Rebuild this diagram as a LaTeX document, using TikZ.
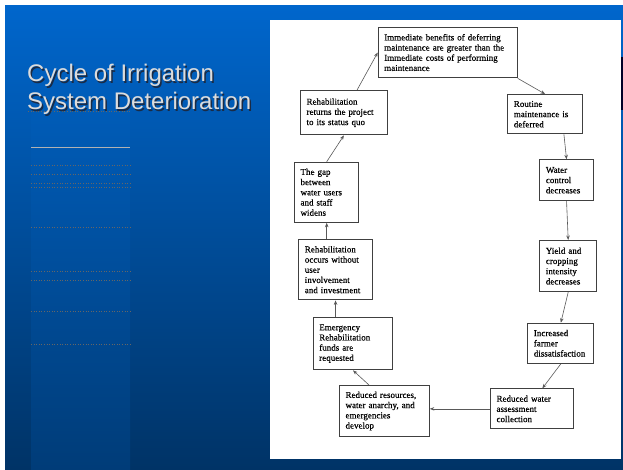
\documentclass[tikz,border=0pt]{standalone}
\usepackage{fontspec}
\setmainfont{Liberation Serif}
\newfontfamily\titlefont{Liberation Sans}
\newfontfamily\scanfont[FakeBold=0.35]{Liberation Serif}
\usepackage{xcolor}
\usetikzlibrary{arrows, arrows.meta, positioning, calc}

\definecolor{slidetop}{HTML}{0066CC}
\definecolor{slidebot}{HTML}{003366}
\definecolor{stripbot}{HTML}{003C78}
\definecolor{titlegray}{HTML}{DCDCDC}
\definecolor{titleshadow}{HTML}{1A2B45}

\begin{document}
\begin{tikzpicture}[
    x=1pt, y=-1pt,
    stage/.style={rectangle, draw=black!75, line width=1.1pt, fill=white, text=black, anchor=north west, align=left, inner xsep=6pt, inner ysep=0pt, font=\scanfont\fontsize{9}{10.2}\selectfont},
    link/.style={->, >={Stealth[length=4.5pt, width=3.5pt]}, line width=0.6pt, draw=black!65},
    title/.style={anchor=base west, inner sep=0pt, font=\titlefont\fontsize{24}{28}\selectfont},
    rule/.style={dotted, line width=0.6pt, draw=black!60}
]
\useasboundingbox (0,0) rectangle (623,470);

% Slide background
\fill[white] (0,0) rectangle (623,470);
\shade[top color=slidetop, bottom color=slidebot] (5,6) rectangle (623,470);
\shade[top color=slidetop!89!slidebot, bottom color=stripbot] (31,57) rectangle (130,470);
\fill[black!85!blue] (620.5,57) rectangle (623,110);

% Faint rules in the left column
\draw[black!30, line width=0.5pt] (31,147) -- (130,147);
\draw[rule] (28,111) -- (130,111);
\foreach \y in {165,174,183,187,227,271,280,311,344}
    \draw[rule] (31,\y) -- (130,\y);

% Title
\node[title, text=titleshadow] (shadow1) at (28.5,83.2) {Cycle of Irrigation};
\node[title, text=titleshadow] (shadow2) at (28.5,111.5) {System Deterioration};
\node[title, text=titlegray] (line1) at (27,81.7) {Cycle of Irrigation};
\node[title, text=titlegray] (line2) at (27,110) {System Deterioration};

% Scanned page
\fill[white] (270,20.5) rectangle (620.5,459);

% Stages of the cycle
\node[stage, text width=127pt, minimum height=50.6pt] (benefits) at (377.7,26.7) {Immediate benefits of deferring\\maintenance are greater than the\\Immediate costs of performing\\maintenance};
\node[stage, text width=62.4pt, minimum height=39.3pt] (deferred) at (507.3,94) {Routine\\maintenance is\\deferred};
\node[stage, text width=41.4pt, minimum height=40.7pt] (control) at (539.3,159.3) {Water\\control\\decreases};
\node[stage, text width=44.7pt, minimum height=51pt] (yield) at (539.3,240) {Yield and\\cropping\\intensity\\decreases};
\node[stage, text width=54pt, minimum height=40pt] (unrest) at (527.3,322.7) {Increased\\farmer\\dissatisfaction};
\node[stage, text width=70.7pt, minimum height=40pt] (fees) at (490,388.3) {Reduced water\\assessment\\collection};
\node[stage, text width=77.7pt, minimum height=51pt] (anarchy) at (339,385) {Reduced resources,\\water anarchy, and\\emergencies\\develop};
\node[stage, text width=67.6pt, minimum height=52.6pt] (funds) at (312.7,316.7) {Emergency\\Rehabilitation\\funds are\\requested};
\node[stage, text width=61.4pt, minimum height=60.3pt] (withoutuser) at (298.3,239) {Rehabilitation\\occurs without\\user\\involvement\\and investment};
\node[stage, text width=52.3pt, minimum height=60pt] (gap) at (294,161.7) {The gap\\between\\water users\\and staff\\widens};
\node[stage, text width=74.7pt, minimum height=44.3pt] (restore) at (300,90) {Rehabilitation\\returns the project\\to its status quo};

% Cycle arrows
\draw[link] (benefits.south east) -- (deferred.north);
\draw[link] ($(deferred.south)!0.5!(deferred.south east)$) -- (control.north);
\draw[link] (control.south) -- (yield.north);
\draw[link] (yield.south) -- (unrest.north);
\draw[link] (unrest.south) -- ($(fees.north)!0.25!(fees.north east)$);
\draw[link] (fees.west) -- (fees.west -| anarchy.east);
\draw[link] ($(anarchy.north west)!0.33!(anarchy.north east)$) -- (funds.south);
\draw[link] (funds.north -| withoutuser.south) -- (withoutuser.south);
\draw[link] (withoutuser.north -| gap.south) -- (gap.south);
\draw[link] (gap.north) -- (restore.south);
\draw[link] ($(restore.north)!0.3!(restore.north east)$) -- (benefits.west);

\end{tikzpicture}
\end{document}
